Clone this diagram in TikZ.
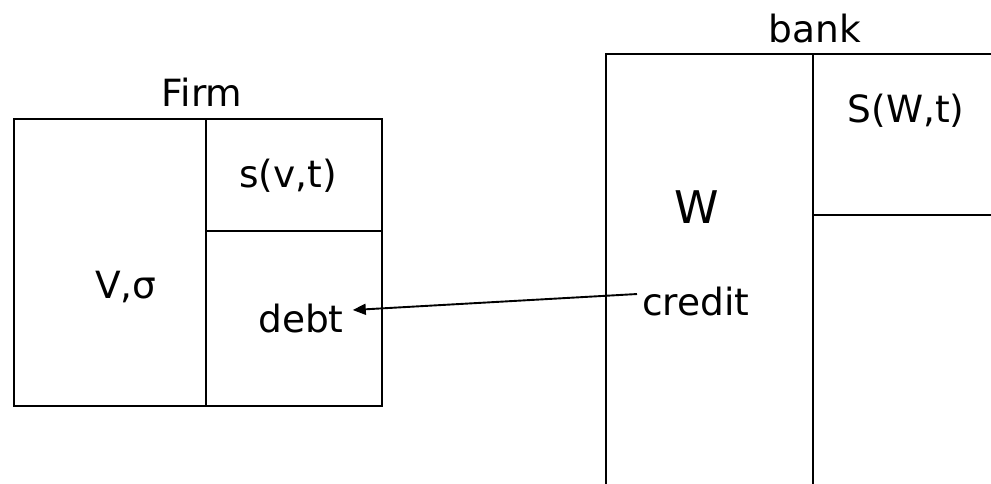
\documentclass[tikz,border=0pt]{standalone}
\usepackage{fontspec}
\setmainfont{DejaVu Sans}
\usetikzlibrary{arrows.meta}
\begin{document}
\begin{tikzpicture}[x=1pt,y=-1pt,
  wall/.style={line width=2.1pt},
  lbl/.style={inner sep=0pt,font=\fontsize{37.5}{44}\selectfont},
  biglbl/.style={inner sep=0pt,font=\fontsize{45}{52}\selectfont},
  flow/.style={line width=1.9pt,-{Triangle[length=13pt,width=11pt]}}]
  \useasboundingbox (0,0) rectangle (991,484);

  % firm balance sheet
  \draw[wall] (14,119) rectangle (382,406);
  \draw[wall] (206,119) -- (206,406);
  \draw[wall] (206,231) -- (382,231);
  \node[lbl,anchor=base] (firm) at (202,107) {Firm};
  \node[lbl,anchor=base] (equity) at (288,187) {s(v,t)};
  \node[lbl,anchor=base] (assets) at (126,298) {V,σ};
  \node[lbl,anchor=base west] (debt) at (258,332) {debt};

  % bank balance sheet (open to the right and bottom)
  \draw[wall] (991,54) -- (606,54) -- (606,484);
  \draw[wall] (813,54) -- (813,484);
  \draw[wall] (813,215) -- (991,215);
  \node[lbl,anchor=base] (bank) at (815,43) {bank};
  \node[lbl,anchor=base] (bequity) at (906,123) {S(W,t)};
  \node[biglbl,anchor=base] (wealth) at (697,223) {W};
  \node[lbl,anchor=base west] (credit) at (642,315) {credit};

  % loan from bank to firm
  \draw[flow] ([xshift=-5pt,yshift=7pt]credit.west) -- ([xshift=9pt,yshift=8pt]debt.east);
\end{tikzpicture}
\end{document}
